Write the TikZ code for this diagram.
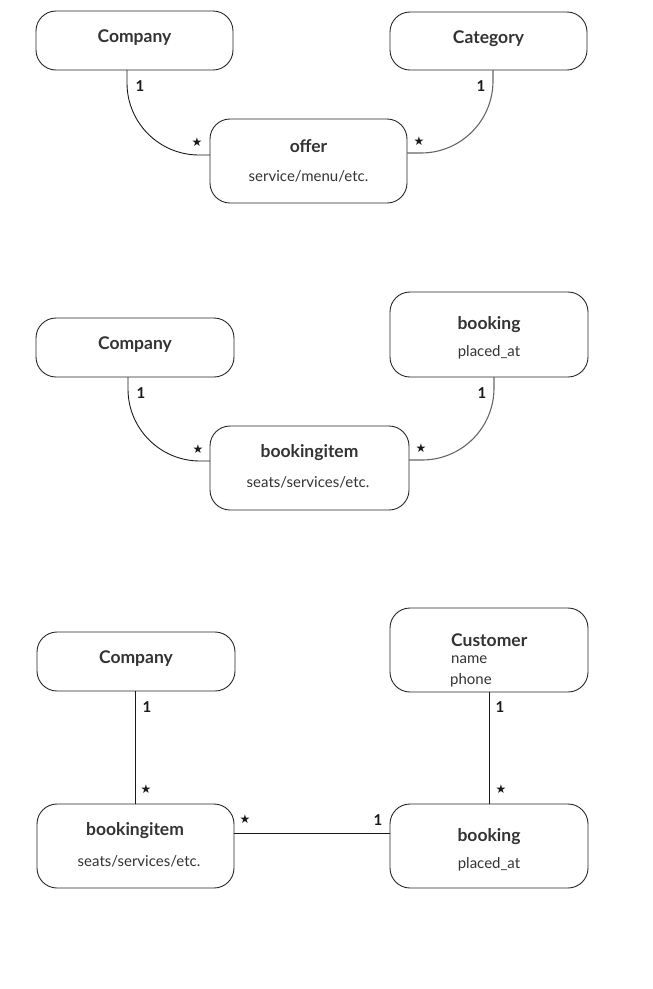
\documentclass[tikz,border=0pt]{standalone}
\usepackage{fontspec}
\setmainfont{Lato}
\newfontfamily\symfont{DejaVu Sans}
\begin{document}
\begin{tikzpicture}[x=1pt,y=-1pt,
  ent/.style={draw=black!85,line width=0.9pt,rounded corners=20pt},
  txt/.style={text=black!80,inner sep=0pt},
  lbl/.style={font=\bfseries\fontsize{15}{17}\selectfont,text=black!90,inner sep=0pt},
  star/.style={font=\symfont\fontsize{12}{12}\selectfont,text=black!90,inner sep=0pt},
  conn/.style={draw=black!90,line width=0.9pt},
  conng/.style={draw=black!60,line width=1.1pt},
  curveconn/.style={rounded corners=72pt}]
\useasboundingbox (0,0) rectangle (653,989);
\newcommand{\ttl}[1]{{\bfseries\fontsize{17.5}{20}\selectfont #1}}
\newcommand{\sub}[1]{{\fontsize{15}{17}\selectfont #1}}
% ---------- diagram 1 ----------
\draw[ent] (36,11) rectangle (233,70);
\node[txt] (c1) at (134.5,38) {\ttl{Company}};
\coordinate (c1b) at (127,70);
\draw[ent] (390,12) rectangle (587,70);
\node[txt] (cat) at (488.5,39) {\ttl{Category}};
\coordinate (catb) at (493,70);
\draw[ent] (210,119) rectangle (407,203);
\node[txt] (off) at (308.5,146) {\ttl{offer}};
\node[txt] (offs) at (308.5,176) {\sub{service/menu/etc.}};
\coordinate (offl) at (210,155);
\coordinate (offr) at (407,153);
\draw[conn,curveconn] (c1b) |- (offl);
\draw[conng,curveconn] (catb) |- (offr);
\node[lbl] (l1a) at (140,86) {1};
\node[star] (l1b) at (197,142) {★};
\node[lbl] (l1c) at (481,86) {1};
\node[star] (l1d) at (419,141) {★};
% ---------- diagram 2 ----------
\draw[ent] (36,318) rectangle (234,377);
\node[txt] (c2) at (135,345) {\ttl{Company}};
\coordinate (c2b) at (128,377);
\draw[ent] (390,292) rectangle (588,377);
\node[txt] (bk2) at (489,325) {\ttl{booking}};
\node[txt] (bk2s) at (489,352) {\sub{placed\_at}};
\coordinate (bk2b) at (494,377);
\draw[ent] (210,426) rectangle (409,510);
\node[txt] (bi2) at (309.5,453) {\ttl{bookingitem}};
\node[txt] (bi2s) at (308,482) {\sub{seats/services/etc.}};
\coordinate (bi2l) at (210,461);
\coordinate (bi2r) at (409,460);
\draw[conn,curveconn] (c2b) |- (bi2l);
\draw[conng,curveconn] (bk2b) |- (bi2r);
\node[lbl] (l2a) at (141,393) {1};
\node[star] (l2b) at (198,449) {★};
\node[lbl] (l2c) at (482,393) {1};
\node[star] (l2d) at (421,448) {★};
% ---------- diagram 3 ----------
\draw[ent] (37,632) rectangle (235,691);
\node[txt] (c3) at (136,659) {\ttl{Company}};
\draw[ent] (390,608) rectangle (588,692);
\node[txt,anchor=west] (cu) at (451,640) {\ttl{Customer}};
\node[txt,anchor=west] (cun) at (451,660) {\sub{name}};
\node[txt,anchor=west] (cup) at (450,680) {\sub{phone}};
\draw[ent] (37,804) rectangle (234,888);
\node[txt] (bi3) at (135,831) {\ttl{bookingitem}};
\node[txt] (bi3s) at (139,861) {\sub{seats/services/etc.}};
\draw[ent] (390,804) rectangle (588,888);
\node[txt] (bk3) at (489,837) {\ttl{booking}};
\node[txt] (bk3s) at (489,864) {\sub{placed\_at}};
\coordinate (c3b) at (135,691);
\coordinate (bi3t) at (135,804);
\coordinate (cub) at (489,692);
\coordinate (bk3t) at (489,804);
\coordinate (bi3r) at (234,833);
\coordinate (bk3l) at (390,833);
\draw[conn] (c3b) -- (bi3t);
\draw[conn] (cub) -- (bk3t);
\draw[conn] (bi3r) -- (bk3l);
\node[lbl] (l3a) at (147,707) {1};
\node[star] (l3b) at (146,789) {★};
\node[lbl] (l3c) at (500,707) {1};
\node[star] (l3d) at (501,789) {★};
\node[star] (l3e) at (245,819) {★};
\node[lbl] (l3f) at (378,820) {1};
\end{tikzpicture}
\end{document}
